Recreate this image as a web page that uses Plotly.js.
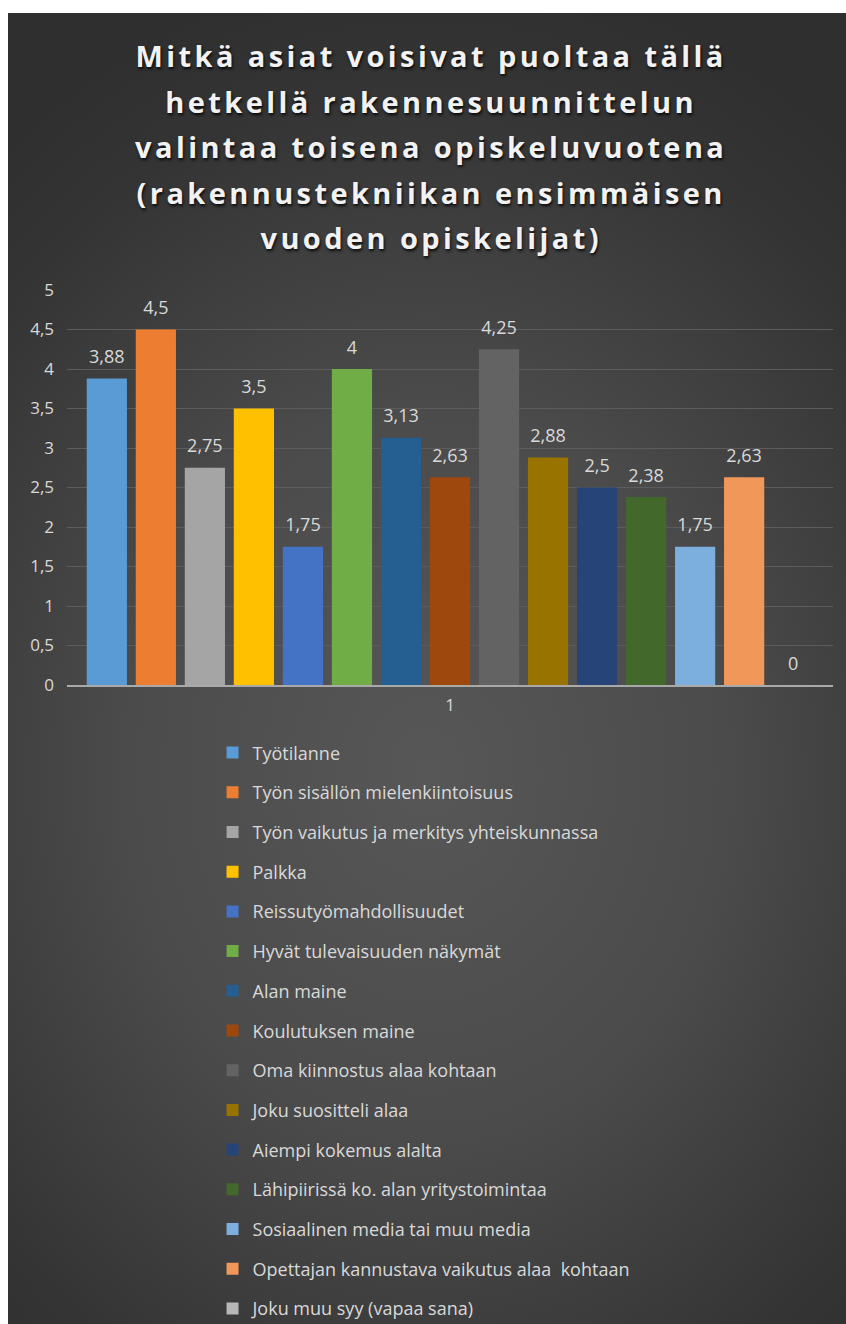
<!DOCTYPE html>
<html><head><meta charset="utf-8">
<script src="https://cdn.plot.ly/plotly-3.0.1.min.js"></script>
<style>
html,body{margin:0;padding:0;background:#ffffff;}
#chart{position:absolute;left:8px;top:13px;width:838px;height:1311px;
background:radial-gradient(ellipse 80% 62% at 50% 58%, #575757 0%, #4b4b4b 45%, #343434 85%, #2f2f2f 100%);}
</style></head><body><div id="chart"></div>
<script>
const titleLines = [
  'Mitkä asiat voisivat puoltaa tällä',
  'hetkellä rakennesuunnittelun',
  'valintaa toisena opiskeluvuotena',
  '(rakennustekniikan ensimmäisen',
  'vuoden opiskelijat)'
];
const categories = ['1'];
const seriesNames = [
  'Työtilanne',
  'Työn sisällön mielenkiintoisuus',
  'Työn vaikutus ja merkitys yhteiskunnassa',
  'Palkka',
  'Reissutyömahdollisuudet',
  'Hyvät tulevaisuuden näkymät',
  'Alan maine',
  'Koulutuksen maine',
  'Oma kiinnostus alaa kohtaan',
  'Joku suositteli alaa',
  'Aiempi kokemus alalta',
  'Lähipiirissä ko. alan yritystoimintaa',
  'Sosiaalinen media tai muu media',
  'Opettajan kannustava vaikutus alaa  kohtaan',
  'Joku muu syy (vapaa sana)'
];
const seriesValues = [3.88, 4.5, 2.75, 3.5, 1.75, 4, 3.13, 2.63, 4.25, 2.88, 2.5, 2.38, 1.75, 2.63, 0];
const seriesColors = [
  '#5B9BD5', '#ED7D31', '#A5A5A5', '#FFC000', '#4472C4', '#70AD47', '#255E91', '#9E480E',
  '#636363', '#997300', '#264478', '#43682B', '#7CAFDD', '#F1975A', '#B7B7B7'
];
const yTickValues = [0, 0.5, 1, 1.5, 2, 2.5, 3, 3.5, 4, 4.5, 5];

const FONT = '"Open Sans", "Noto Sans", sans-serif';
const LABEL = '#d9d9d9';

// label text with a small spacer line below it, to lift the label off the bar top
function labelText(v) {
  return '<span style="font-size:18px">' + String(v).replace('.', ',') + '</span><br>\u00a0';
}

const traces = seriesNames.map((name, i) => ({
  type: 'bar',
  name: name,
  x: categories,
  y: [seriesValues[i]],
  text: [labelText(seriesValues[i])],
  textposition: 'outside',
  textfont: {family: FONT, size: 8, color: LABEL},
  cliponaxis: false,
  marker: {color: seriesColors[i], line: {width: 0}},
  legendgroup: 'g' + i,
  hoverinfo: 'name+y'
}));

const titleText = titleLines
  .map(l => '<span style="font-size:29px;letter-spacing:3.4px">' + l + '</span>')
  .join('<br>');

const layout = {
  width: 838,
  height: 1311,
  paper_bgcolor: 'rgba(0,0,0,0)',
  plot_bgcolor: 'rgba(0,0,0,0)',
  separators: ', ',
  font: {family: FONT, color: LABEL},
  margin: {l: 59, r: 13, t: 277, b: 639, pad: 0, autoexpand: false},
  title: {
    text: titleText,
    font: {family: FONT, size: 35, color: '#f2f2f2', weight: 700, shadow: '1px 2px 3px rgba(0,0,0,0.85)'},
    x: 0.505, xanchor: 'center',
    y: 1 - 54 / 1311, yanchor: 'top', yref: 'container'
  },
  barmode: 'group',
  bargap: 0.04,
  bargroupgap: 0.18,
  xaxis: {
    type: 'category',
    showgrid: false,
    zeroline: false,
    showline: true,
    linecolor: '#a9a9a9',
    linewidth: 1.5,
    ticks: '',
    tickfont: {family: FONT, size: 17, color: LABEL},
    ticklabelstandoff: 4,
    automargin: false,
    fixedrange: true
  },
  yaxis: {
    range: [0, 5],
    tickvals: yTickValues,
    showgrid: true,
    gridcolor: '#5c5c5c',
    gridwidth: 1,
    zeroline: false,
    showline: false,
    ticks: '',
    tickfont: {family: FONT, size: 17, color: LABEL},
    ticklabelstandoff: 12,
    automargin: false,
    fixedrange: true
  },
  showlegend: true,
  legend: {
    orientation: 'v',
    x: 0.19, xanchor: 'left',
    y: -0.125, yanchor: 'top',
    traceorder: 'grouped',
    tracegroupgap: 13.3,
    font: {family: FONT, size: 18, color: LABEL},
    bgcolor: 'rgba(0,0,0,0)',
    itemclick: false, itemdoubleclick: false
  }
};

Plotly.newPlot('chart', traces, layout, {displayModeBar: false, staticPlot: true});
</script>
</body></html>
